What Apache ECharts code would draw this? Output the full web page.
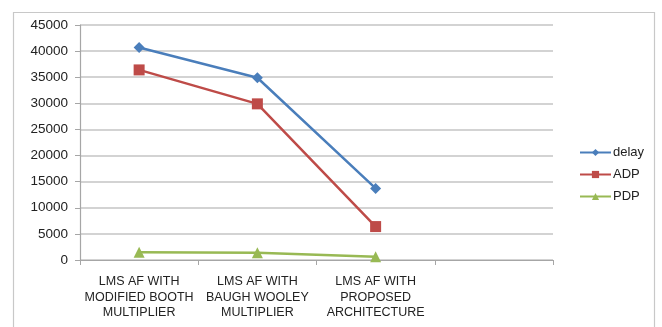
<!DOCTYPE html>
<html>
<head>
<meta charset="utf-8">
<script src="https://cdn.jsdelivr.net/npm/echarts@6/dist/echarts.min.js"></script>
<style>
  html, body { margin: 0; padding: 0; background: #fff; }
  #chart { width: 662px; height: 327px; }
</style>
</head>
<body>
<div id="chart"></div>
<script>
// Architectures compared (fourth slot is left empty on the axis)
const categories = [
  'LMS AF WITH\nMODIFIED BOOTH\nMULTIPLIER',
  'LMS AF WITH\nBAUGH WOOLEY\nMULTIPLIER',
  'LMS AF WITH\nPROPOSED\nARCHITECTURE',
  ''
];
const delay = [40700, 34900, 13700, null];
const adp = [36400, 29900, 6400, null];
const pdp = [1500, 1400, 600, null];
const yTicks = { min: 0, max: 45000, interval: 5000 };

const FONT = 'Liberation Sans';
const chart = echarts.init(document.getElementById('chart'));

chart.setOption({
  animation: false,
  backgroundColor: '#ffffff',
  textStyle: { fontFamily: FONT },
  graphic: [{
    type: 'rect',
    shape: { x: 13.5, y: 12.5, width: 641, height: 340 },
    style: { fill: 'none', stroke: '#c8c8c8', lineWidth: 1.2 },
    silent: true
  }],
  grid: { left: 80, right: 109, top: 25, bottom: 67, containLabel: false },
  legend: {
    orient: 'vertical',
    left: 574,
    top: 141,
    itemWidth: 31,
    itemHeight: 9,
    itemGap: 9,
    textStyle: { fontFamily: FONT, fontSize: 13, color: '#222', padding: [0, 0, 0, -3] },
    data: ['delay', 'ADP', 'PDP']
  },
  xAxis: {
    type: 'category',
    data: categories,
    boundaryGap: true,
    axisLine: { lineStyle: { color: '#a6a6a6', width: 1.2 } },
    axisTick: { show: true, length: 5, inside: false, lineStyle: { color: '#a6a6a6' } },
    axisLabel: {
      interval: 0,
      margin: 14,
      fontFamily: FONT,
      fontSize: 12.5,
      lineHeight: 15.5,
      color: '#222'
    },
    splitLine: { show: false }
  },
  yAxis: {
    type: 'value',
    min: yTicks.min,
    max: yTicks.max,
    interval: yTicks.interval,
    axisLine: { show: true, lineStyle: { color: '#a6a6a6', width: 1.2 } },
    axisTick: { show: true, length: 5, lineStyle: { color: '#a6a6a6' } },
    axisLabel: {
      fontFamily: FONT, fontSize: 13.5, color: '#222', margin: 12,
      formatter: v => String(v)
    },
    splitLine: { lineStyle: { color: '#c4c4c4', width: 1.5 } }
  },
  series: [
    {
      name: 'delay', type: 'line', data: delay,
      symbol: 'diamond', symbolSize: 11,
      color: '#4a7ebb',
      lineStyle: { width: 2.5, color: '#4a7ebb' },
      itemStyle: { color: '#4a7ebb' }
    },
    {
      name: 'ADP', type: 'line', data: adp,
      symbol: 'rect', symbolSize: 11,
      color: '#be4b48',
      lineStyle: { width: 2.5, color: '#be4b48' },
      itemStyle: { color: '#be4b48' }
    },
    {
      name: 'PDP', type: 'line', data: pdp,
      symbol: 'triangle', symbolSize: 11,
      color: '#98b954',
      lineStyle: { width: 2.5, color: '#98b954' },
      itemStyle: { color: '#98b954' }
    }
  ]
});
</script>
</body>
</html>
